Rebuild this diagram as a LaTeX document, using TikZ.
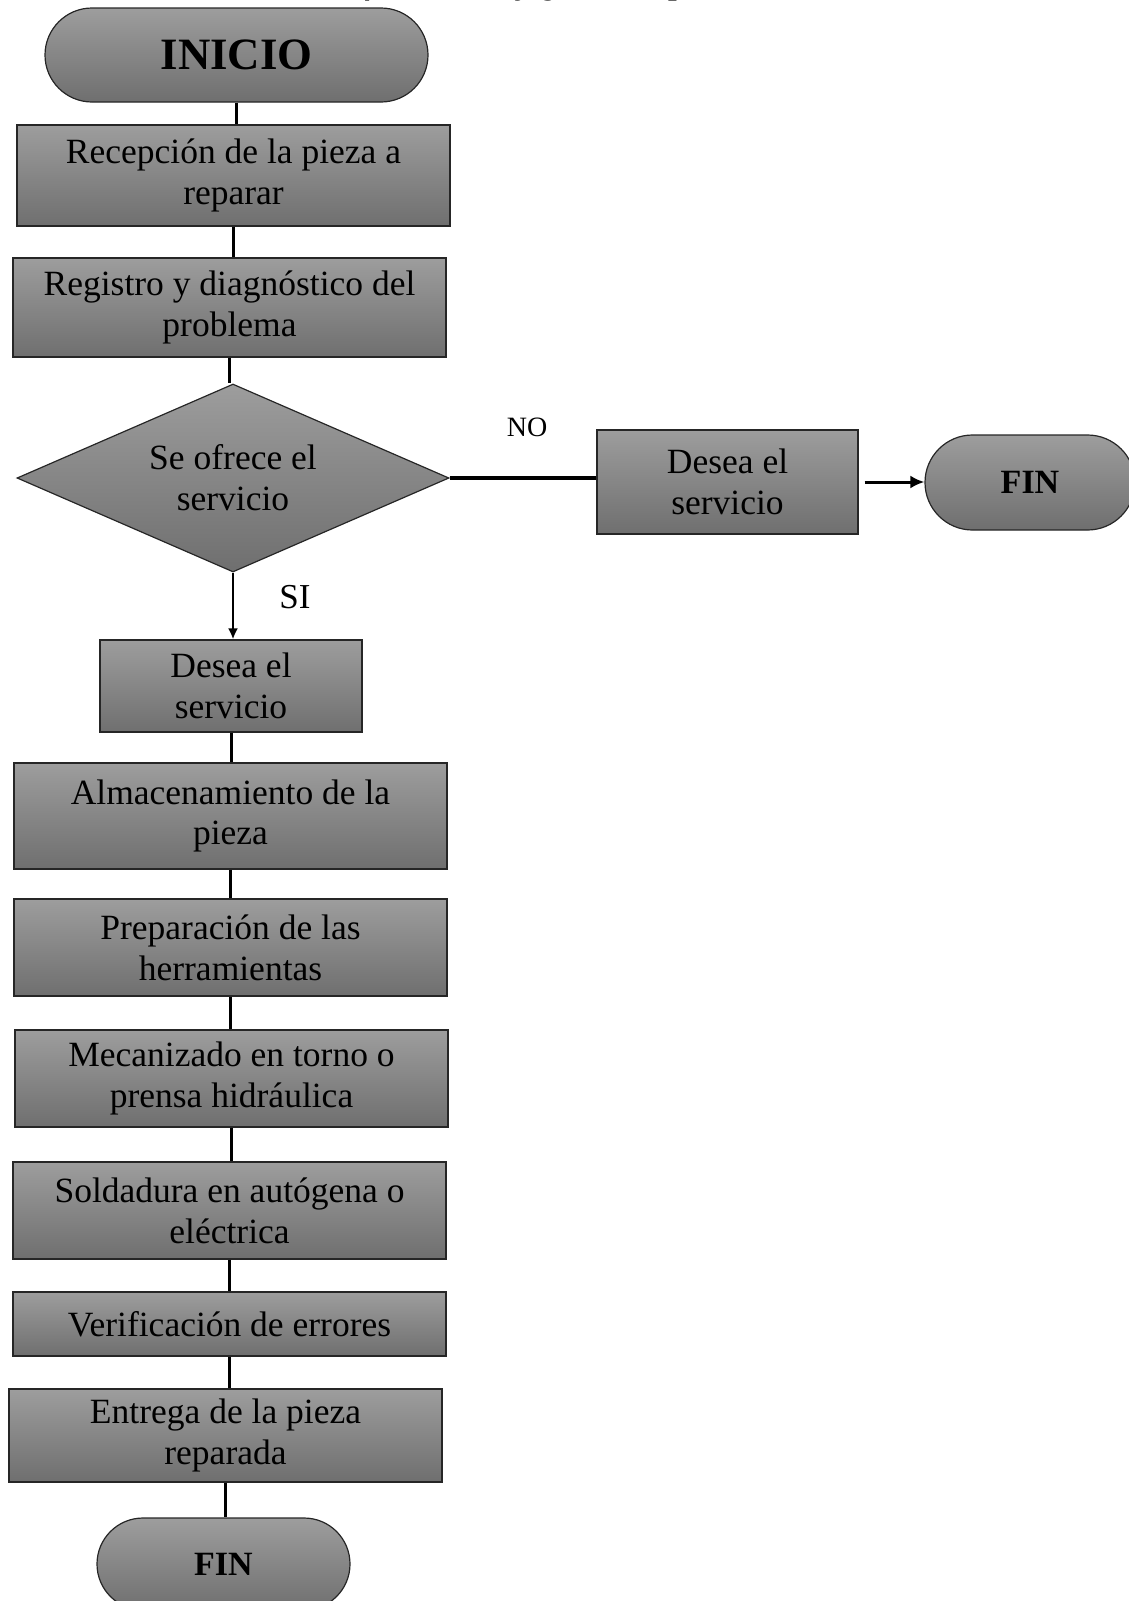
\documentclass[tikz,border=0pt]{standalone}
\usepackage{fontspec}
\setmainfont{Liberation Serif}
\usepackage{tikz}
\usetikzlibrary{calc, arrows, shapes, shapes.geometric, shapes.misc}
\usetikzlibrary{arrows.meta}
\tikzset{>={Latex[length=7pt,width=6.5pt]}}
\definecolor{boxtop}{RGB}{157,157,157}
\definecolor{boxbot}{RGB}{111,111,111}
\tikzset{
  paso/.style={rectangle, draw=black!85, line width=0.6pt, top color=boxtop, bottom color=boxbot,
    align=center, inner sep=0pt, font=\fontsize{17.75}{20.4}\selectfont},
  terminal/.style={rounded rectangle, draw=black!85, line width=0.6pt, top color=boxtop, bottom color=boxbot,
    inner sep=0pt, font=\fontsize{17}{20}\selectfont\bfseries},
  decision/.style={diamond, aspect=2.3, draw=black!85, line width=0.6pt, top color=boxtop, bottom color=boxbot,
    align=center, inner sep=0pt, font=\fontsize{17.75}{20.4}\selectfont},
  flecha/.style={line width=1.5pt}
}
\begin{document}
\begin{tikzpicture}[x=0.5pt, y=-0.5pt]
\useasboundingbox (0,0) rectangle (1129,1601);
% titulo (cortado arriba)
\node[anchor=base, font=\fontsize{15.5}{18}\selectfont\bfseries\itshape] (titulo) at (548,-6) {Gráfico 30: Flujograma de procesos};
% nodos
\node[terminal, minimum width=191.5pt, minimum height=47pt, font=\fontsize{22.4}{26}\selectfont\bfseries] (inicio) at (236.5,55) {INICIO};
\node[paso, minimum width=216.5pt, minimum height=50.5pt] (rec) at (233.5,175.5) {Recepción de la pieza a\\reparar};
\node[paso, minimum width=216.5pt, minimum height=49.5pt] (reg) at (229.5,307.5) {Registro y diagnóstico del\\problema};
\node[decision, minimum width=216pt, minimum height=94pt] (dec) at (233,478) {Se ofrece el\\servicio};
\node[paso, minimum width=130.5pt, minimum height=52pt] (desR) at (727.5,482) {Desea el\\servicio};
\node[terminal, minimum width=105pt, minimum height=47.5pt] (finR) at (1030,482.5) {FIN};
\node[paso, minimum width=131pt, minimum height=46pt] (desL) at (231,686) {Desea el\\servicio};
\node[paso, minimum width=216.5pt, minimum height=53pt] (alm) at (230.5,816) {Almacenamiento de la\\pieza};
\node[paso, minimum width=216.5pt, minimum height=48.5pt] (pre) at (230.5,947.5) {Preparación de las\\herramientas};
\node[paso, minimum width=216.5pt, minimum height=48.5pt] (mec) at (231.5,1078.5) {Mecanizado en torno o\\prensa hidráulica};
\node[paso, minimum width=216.5pt, minimum height=48.5pt] (sol) at (229.5,1210.5) {Soldadura en autógena o\\eléctrica};
\node[paso, minimum width=216.5pt, minimum height=32pt] (ver) at (229.5,1324) {Verificación de errores};
\node[paso, minimum width=216.5pt, minimum height=46.5pt] (ent) at (225.5,1435.5) {Entrega de la pieza\\reparada};
\node[terminal, minimum width=126.5pt, minimum height=46pt] (fin) at (223.5,1564) {FIN};
% etiquetas
\node[font=\fontsize{14}{16}\selectfont] (no) at (527,427) {NO};
\node[font=\fontsize{17.5}{20}\selectfont] (si) at (295,597) {SI};
% conectores
\draw[flecha] (inicio.south) -- (inicio.south |- rec.north);
\draw[flecha] (rec.south) -- (rec.south |- reg.north);
\draw[flecha] (reg.south) -- (reg.south |- dec.north);
\draw[line width=1.2pt, -{Latex[length=5.5pt,width=5pt]}] (dec.south) -- (dec.south |- desL.north);
\draw[line width=2pt] (dec.east) -- (dec.east -| desR.west);
\draw[flecha, ->, shorten <=3pt] (desR.east) -- (desR.east -| finR.west);
\draw[flecha] (desL.south) -- (desL.south |- alm.north);
\draw[flecha] (alm.south) -- (alm.south |- pre.north);
\draw[flecha] (pre.south) -- (pre.south |- mec.north);
\draw[flecha] (mec.south) -- (mec.south |- sol.north);
\draw[flecha] (sol.south) -- (sol.south |- ver.north);
\draw[flecha] (ver.south) -- (ver.south |- ent.north);
\draw[flecha] (ent.south) -- (ent.south |- fin.north);
\end{tikzpicture}
\end{document}
